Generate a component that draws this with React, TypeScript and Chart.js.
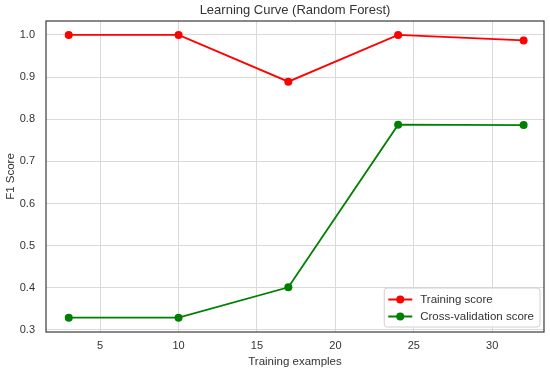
import React, { useEffect, useRef } from "react";
import { Chart, registerables } from "chart.js";

Chart.register(...registerables);

const trainingExamples = [3, 10, 17, 24, 32];
const trainingScore = [1.0, 1.0, 0.889, 1.0, 0.987];
const cvScore = [0.329, 0.329, 0.401, 0.787, 0.786];
const xTicks = [5, 10, 15, 20, 25, 30];
const yTicks = [0.3, 0.4, 0.5, 0.6, 0.7, 0.8, 0.9, 1.0];

const FONT = "'Liberation Sans', Arial, sans-serif";
const TEXT = "#333333";

const framePlugin = {
  id: "frame",
  afterDraw(chart: any) {
    const { ctx, chartArea } = chart;
    ctx.save();
    ctx.strokeStyle = "#3a3a3a";
    ctx.lineWidth = 1.2;
    ctx.strokeRect(chartArea.left, chartArea.top, chartArea.right - chartArea.left, chartArea.bottom - chartArea.top);
    ctx.fillStyle = TEXT;
    ctx.font = `13px ${FONT}`;
    ctx.textAlign = "center";
    ctx.textBaseline = "middle";
    ctx.fillText("Learning Curve (Random Forest)", (chartArea.left + chartArea.right) / 2, 10);
    ctx.font = `11.5px ${FONT}`;
    const ds = chart.data.datasets;
    let maxW = 0;
    ds.forEach((d: any) => { maxW = Math.max(maxW, ctx.measureText(d.label).width); });
    const boxW = 4 + 24 + 8 + maxW + 6;
    const rowH = 17;
    const boxH = ds.length * rowH + 5;
    const bx = chartArea.right - 4 - boxW;
    const by = chartArea.bottom - 5 - boxH;
    ctx.fillStyle = "rgba(255,255,255,0.85)";
    ctx.strokeStyle = "#d0d0d0";
    ctx.lineWidth = 1;
    ctx.beginPath();
    (ctx as any).roundRect(bx, by, boxW, boxH, 3);
    ctx.fill();
    ctx.stroke();
    ds.forEach((d: any, i: number) => {
      const cy = by + 3 + rowH * i + rowH / 2;
      const lx = bx + 4;
      ctx.strokeStyle = d.borderColor;
      ctx.lineWidth = 2;
      ctx.beginPath();
      ctx.moveTo(lx, cy);
      ctx.lineTo(lx + 24, cy);
      ctx.stroke();
      ctx.fillStyle = d.borderColor;
      ctx.beginPath();
      ctx.arc(lx + 12, cy, 4, 0, Math.PI * 2);
      ctx.fill();
      ctx.fillStyle = TEXT;
      ctx.textAlign = "left";
      ctx.textBaseline = "middle";
      ctx.fillText(d.label, lx + 32, cy);
    });
    ctx.restore();
  },
};

export default function App() {
  const ref = useRef<HTMLCanvasElement>(null);
  useEffect(() => {
    document.body.style.margin = "0";
    const chart = new Chart(ref.current!, {
      type: "line",
      data: {
        datasets: [
          {
            label: "Training score",
            data: trainingExamples.map((x, i) => ({ x, y: trainingScore[i] })),
            borderColor: "#ff0000",
            backgroundColor: "#ff0000",
            borderWidth: 1.8,
            pointRadius: 4,
            pointBorderWidth: 0,
          },
          {
            label: "Cross-validation score",
            data: trainingExamples.map((x, i) => ({ x, y: cvScore[i] })),
            borderColor: "#008000",
            backgroundColor: "#008000",
            borderWidth: 1.8,
            pointRadius: 4,
            pointBorderWidth: 0,
          },
        ],
      },
      options: {
        animation: false,
        responsive: false,
        layout: { padding: { top: 21, right: 6, left: 0, bottom: 0 } },
        plugins: { legend: { display: false }, title: { display: false }, tooltip: { enabled: false } },
        scales: {
          x: {
            type: "linear",
            min: 1.55,
            max: 33.3,
            afterBuildTicks: (s: any) => { s.ticks = xTicks.map((v) => ({ value: v })); },
            afterFit: (s: any) => { s.height = 40; },
            grid: { color: "#dadada", lineWidth: 1, drawTicks: false },
            border: { display: false },
            ticks: { color: TEXT, font: { family: FONT, size: 11 }, padding: 7, callback: (v: any) => String(v) },
            title: { display: true, text: "Training examples", color: TEXT, font: { family: FONT, size: 11.5 }, padding: { top: 0, bottom: 3 } },
          },
          y: {
            type: "linear",
            min: 0.295,
            max: 1.033,
            afterBuildTicks: (s: any) => { s.ticks = yTicks.map((v) => ({ value: v })); },
            afterFit: (s: any) => { s.width = 46; },
            grid: { color: "#dadada", lineWidth: 1, drawTicks: false },
            border: { display: false },
            ticks: { color: TEXT, font: { family: FONT, size: 11 }, padding: 11, callback: (v: any) => Number(v).toFixed(1) },
            title: { display: true, text: "F1 Score", color: TEXT, font: { family: FONT, size: 11.5 }, padding: { top: 4, bottom: 0 } },
          },
        },
      },
      plugins: [framePlugin],
    } as any);
    return () => chart.destroy();
  }, []);
  return <canvas ref={ref} width={550} height={372} style={{ display: "block" }} />;
}
